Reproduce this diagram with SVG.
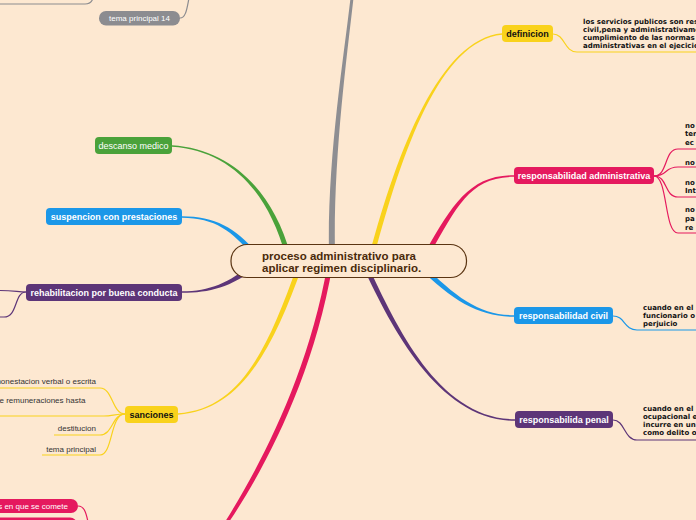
<svg xmlns="http://www.w3.org/2000/svg" width="696" height="520" viewBox="0 0 696 520">
<style>
.bg{fill:#fde8d1}
.thin{fill:none;stroke-width:1.2}
.node text{font-family:"Liberation Sans",Arial,sans-serif;font-size:9px;text-anchor:middle}
.b{font-weight:bold}
.w{fill:#ffffff}
.k{fill:#111111}
.note{font-family:"DejaVu Sans",Verdana,sans-serif;font-size:7px;font-weight:bold;fill:#111111}
.sub{font-family:"Liberation Sans",Arial,sans-serif;font-size:8px;fill:#333333}
.yel{fill:#f9d21c}
.pnk{fill:#e5195e}
.blu{fill:#1b97e8}
.pur{fill:#5d3578}
.grn{fill:#4aa23a}
.gry{fill:#8c8c90}
</style>
<rect class="bg" x="0" y="0" width="696" height="520"/>
<g id="connectors">
  <!-- main tapered branches -->
  <path fill="#8e8e92" d="M335,255 C333,160 346.5,60 353.5,-2 L350.5,-2 C343.5,60 327,160 329,255 Z"/>
  <path fill="#f9d21c" d="M374.4,255.6 C402.4,150.6 440.1,40.8 502,34.8 L502,33.2 C439.9,39.2 397.6,149.4 369.6,254.4 Z"/>
  <path fill="#e5195e" d="M430.2,253.2 C457.2,206.2 470,176.8 514,176.8 L514,175.2 C470,175.2 452.8,203.8 425.8,250.8 Z"/>
  <path fill="#1b97e8" d="M418.2,266.8 C453.2,301.8 480,316.8 514,316.8 L514,315.2 C480,315.2 456.8,298.2 421.8,263.2 Z"/>
  <path fill="#5d3578" d="M362.7,266 C392.7,331 440,420.8 515,420.8 L515,419.2 C440,419.2 397.3,329 367.3,264 Z"/>
  <path fill="#4aa23a" d="M290.4,254.3 C272.4,189.3 230,149.3 172,145.3 L172,146.7 C230,150.7 267.6,190.7 285.6,255.7 Z"/>
  <path fill="#1b97e8" d="M257,253.5 C237,228.5 215,216.3 182,216.3 L182,217.7 C215,217.7 233,231.5 253,256.5 Z"/>
  <path fill="#5d3578" d="M253.5,263 C228.5,283 210,291.3 182,291.3 L182,292.7 C210,292.7 231.5,287 256.5,267 Z"/>
  <path fill="#f9d21c" d="M297.7,264.2 C267.7,349.2 240,409.3 178,413.3 L178,414.7 C240,410.7 272.4,350.8 302.4,265.8 Z"/>
  <path fill="#e5195e" d="M327.5,264.6 C307.5,379.6 257,471 223.5,524.3 L226.5,525.7 C263,472 312.5,380.4 332.5,265.4 Z"/>
  <!-- thin sub connectors -->
  <path class="thin" stroke="#f9d21c" d="M553,34 C565,34 564,52 577,52 L696,52"/>
  <path class="thin" stroke="#e5195e" d="M654,176 C668,176 664,149 678,149 L696,149"/>
  <path class="thin" stroke="#e5195e" d="M654,176 C668,176 664,167 678,167 L696,167"/>
  <path class="thin" stroke="#e5195e" d="M654,176 C668,176 664,197 678,197 L696,197"/>
  <path class="thin" stroke="#e5195e" d="M654,176 C668,176 664,233 678,233 L696,233"/>
  <path class="thin" stroke="#1b97e8" d="M613,316 C625,316 624,330 637,330 L696,330"/>
  <path class="thin" stroke="#5d3578" d="M613,420 C625,420 624,440 637,440 L696,440"/>
  <path class="thin" stroke="#f9d21c" d="M125,414 C112,414 113,388 100,388 L0,388"/>
  <path class="thin" stroke="#f9d21c" d="M125,414 C115,414 112,416 104,416 L0,416"/>
  <path class="thin" stroke="#f9d21c" d="M125,414 C112,414 113,435 100,435 L54,435"/>
  <path class="thin" stroke="#f9d21c" d="M125,414 C110,414 113,455 100,455 L42,455"/>
  <path class="thin" stroke="#5d3578" d="M26,292 C18,292 14,290.5 0,290.5"/>
  <path class="thin" stroke="#5d3578" d="M26,292 C14,292 18,317 4,317 L0,317"/>
  <path class="thin" stroke="#e5195e" d="M78,506 C84,506 86,512 88,522"/>
  <path class="thin" stroke="#8c8c90" d="M0,4 L85,4 C90,4 92,2 93,-2"/>
  <path class="thin" stroke="#8c8c90" d="M180,18 C186,18 187,8 189,-2"/>
</g>
<g id="center" class="node">
  <rect x="231" y="244.5" width="235.5" height="33" rx="16" fill="#fde8d1" stroke="#5a3412" stroke-width="1.2"/>
  <text x="262" y="259.5" class="b" fill="#4a2a0a" style="font-size:11.5px;text-anchor:start">proceso administrativo para</text>
  <text x="262" y="272" class="b" fill="#4a2a0a" style="font-size:11.5px;text-anchor:start">aplicar regimen disciplinario.</text>
</g>
<g id="definicion" class="node">
  <rect class="yel" x="502" y="25" width="51" height="17" rx="4"/>
  <text x="527.5" y="37" class="b k">definicion</text>
</g>
<g id="definicion-text">
  <text class="note" x="583" y="23.5">los servicios publicos son res</text>
  <text class="note" x="583" y="31.5">civil,pena y administrativame</text>
  <text class="note" x="583" y="39.5">cumplimiento de las normas</text>
  <text class="note" x="583" y="47.5">administrativas en el ejecicio</text>
</g>
<g id="resp-admin" class="node">
  <rect class="pnk" x="514" y="167" width="140" height="17" rx="4"/>
  <text x="584" y="179" class="b w">responsabilidad administrativa</text>
</g>
<g id="resp-admin-text">
  <text class="note" x="685" y="127.5">no</text>
  <text class="note" x="685" y="136">ter</text>
  <text class="note" x="685" y="144.5">ec</text>
  <text class="note" x="685" y="164.5">no</text>
  <text class="note" x="685" y="184.5">no</text>
  <text class="note" x="685" y="193">Int</text>
  <text class="note" x="685" y="211.5">no</text>
  <text class="note" x="685" y="220.5">pa</text>
  <text class="note" x="685" y="229.5">re</text>
</g>
<g id="resp-civil" class="node">
  <rect class="blu" x="514" y="307" width="99" height="17" rx="4"/>
  <text x="563.5" y="319" class="b w">responsabilidad civil</text>
</g>
<g id="resp-civil-text">
  <text class="note" x="643" y="309.5">cuando en el</text>
  <text class="note" x="643" y="317.5">funcionario o</text>
  <text class="note" x="643" y="325.5">perjuicio</text>
</g>
<g id="resp-penal" class="node">
  <rect class="pur" x="515" y="411" width="98" height="17" rx="4"/>
  <text x="564" y="423" class="b w">responsabilida penal</text>
</g>
<g id="resp-penal-text">
  <text class="note" x="643" y="410.5">cuando en el</text>
  <text class="note" x="643" y="418.5">ocupacional e</text>
  <text class="note" x="643" y="426.5">incurre en un</text>
  <text class="note" x="643" y="434.5">como delito o</text>
</g>
<g id="descanso" class="node">
  <rect class="grn" x="95" y="137" width="77" height="17" rx="4"/>
  <text x="133.5" y="149" class="w">descanso medico</text>
</g>
<g id="suspencion" class="node">
  <rect class="blu" x="46" y="208" width="136" height="17" rx="4"/>
  <text x="114" y="220" class="b w">suspencion con prestaciones</text>
</g>
<g id="rehabilitacion" class="node">
  <rect class="pur" x="26" y="284" width="156" height="17" rx="4"/>
  <text x="104" y="296" class="b w">rehabilitacion por buena conducta</text>
</g>
<g id="sanciones" class="node">
  <rect class="yel" x="125" y="406" width="53" height="17" rx="4"/>
  <text x="151.5" y="418" class="b k">sanciones</text>
</g>
<g id="sanciones-children">
  <text class="sub" x="96" y="383.5" text-anchor="end">amonestacion verbal o escrita</text>
  <text class="sub" x="-0.5" y="402.5">e remuneraciones hasta</text>
  <text class="sub" x="96" y="430.5" text-anchor="end">destitucion</text>
  <text class="sub" x="96" y="451.5" text-anchor="end">tema principal</text>
</g>
<g id="tema14" class="node">
  <rect class="gry" x="99" y="11" width="81" height="14.5" rx="7"/>
  <text x="139.5" y="21" class="w" style="font-size:8px">tema principal 14</text>
</g>
<g id="comete" class="node">
  <rect class="pnk" x="-10" y="499" width="88" height="14" rx="7"/>
  <text x="68" y="508.8" class="w" style="font-size:8px;text-anchor:end">s en que se comete</text>
</g>
<g id="bottom-pill" class="node">
  <rect class="pnk" x="-10" y="517.5" width="87" height="14" rx="7"/>
</g>
</svg>
